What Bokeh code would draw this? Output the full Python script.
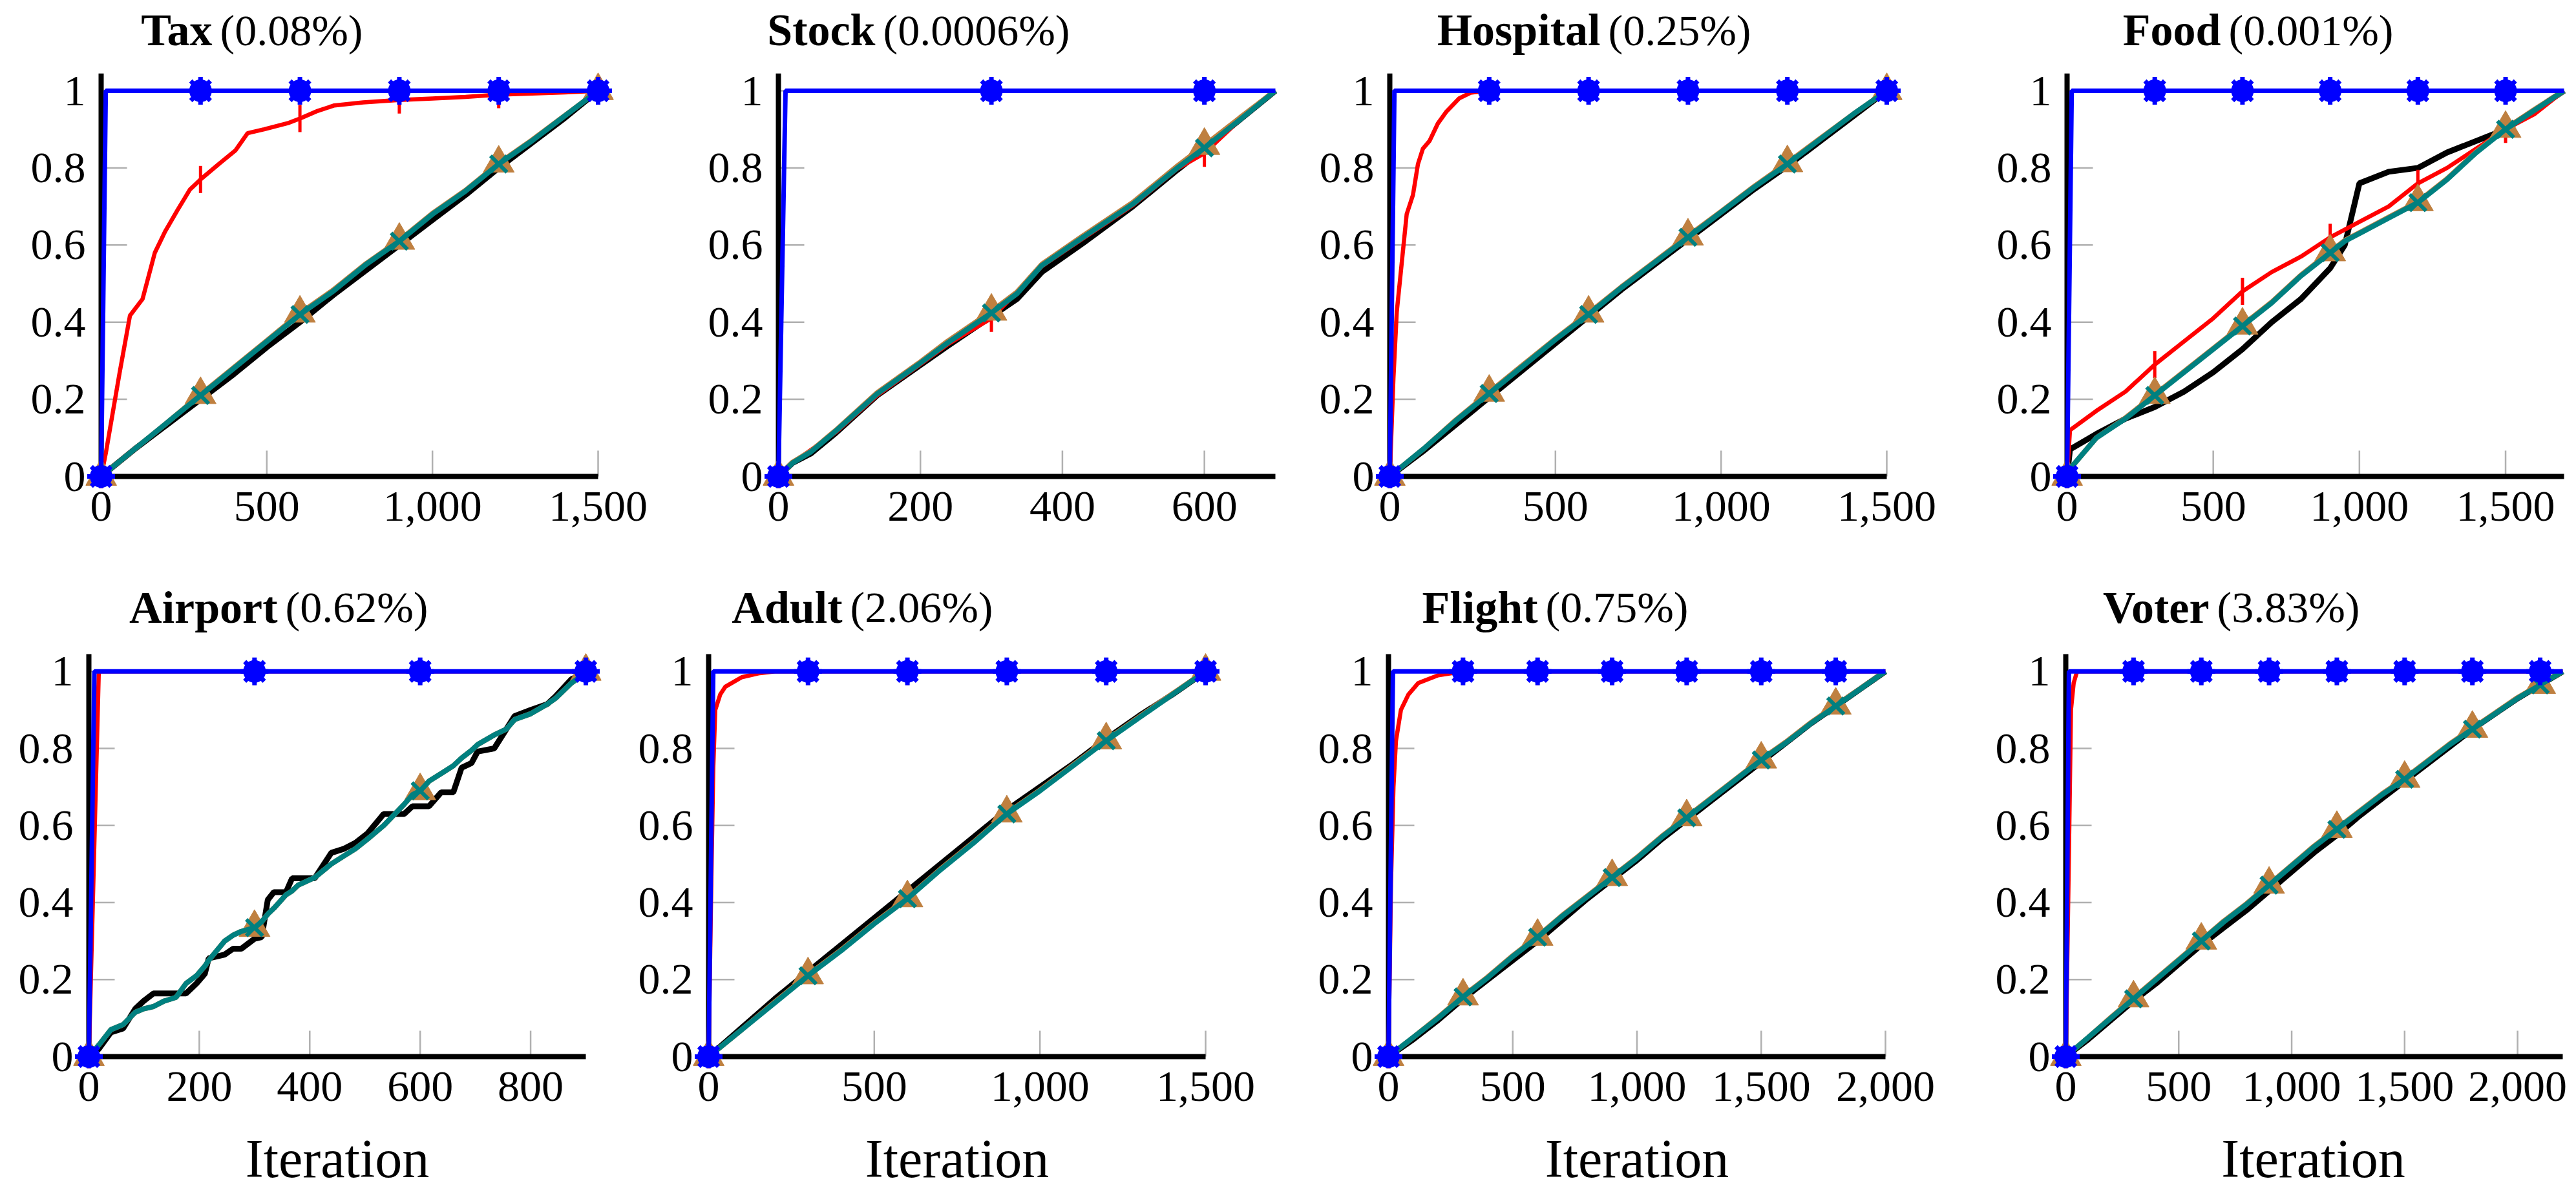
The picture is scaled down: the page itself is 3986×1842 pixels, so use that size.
import numpy as np
from bokeh.plotting import figure
from bokeh.layouts import row, column
from bokeh.models import Range1d, FixedTicker, NumeralTickFormatter, CustomJSTickFormatter
from bokeh.core.properties import value
from bokeh.embed import file_html
from bokeh.resources import INLINE

# ---------------- data ----------------
NAMES = ["Tax", "Stock", "Hospital", "Food", "Airport", "Adult", "Flight", "Voter"]
PCTS = ["(0.08%)", "(0.0006%)", "(0.25%)", "(0.001%)", "(0.62%)", "(2.06%)", "(0.75%)", "(3.83%)"]
XMAX = [1500, 700, 1500, 1700, 900, 1500, 2000, 2200]
XTICKS = [[0, 500, 1000, 1500], [0, 200, 400, 600], [0, 500, 1000, 1500], [0, 500, 1000, 1500],
          [0, 200, 400, 600, 800], [0, 500, 1000, 1500], [0, 500, 1000, 1500, 2000],
          [0, 500, 1000, 1500, 2000]]
YTICKS = [0, 0.2, 0.4, 0.6, 0.8, 1]
XLABEL = "Iteration"

# Tax
TAX_BLUE_X = [0, 14, 300, 600, 900, 1200, 1500]
TAX_BLUE = [0, 1, 1, 1, 1, 1, 1]
TAX_RED_X = [0, 14, 30, 56, 87, 125, 162, 193, 230, 268, 300, 355, 405, 442, 492, 567, 600, 654, 704, 791, 900, 1000, 1100, 1200, 1300, 1400, 1500]
TAX_RED = [0, 0.06, 0.14, 0.27, 0.417, 0.46, 0.58, 0.635, 0.69, 0.744, 0.77, 0.81, 0.845, 0.89, 0.90, 0.917, 0.928, 0.948, 0.962, 0.97, 0.976, 0.98, 0.984, 0.99, 0.993, 0.996, 1.0]
TAX_X = [0, 100, 200, 300, 400, 500, 600, 700, 800, 900, 1000, 1100, 1200, 1300, 1400, 1500]
TAX_BLACK = [0, 0.07, 0.135, 0.2, 0.265, 0.335, 0.4, 0.47, 0.535, 0.6, 0.665, 0.73, 0.8, 0.865, 0.93, 1.0]
TAX_BROWN = [0, 0.07, 0.14, 0.212, 0.282, 0.352, 0.423, 0.483, 0.552, 0.612, 0.682, 0.742, 0.812, 0.872, 0.936, 1.0]
TAX_TEAL = [0, 0.07, 0.14, 0.21, 0.28, 0.35, 0.42, 0.48, 0.55, 0.61, 0.68, 0.74, 0.81, 0.87, 0.935, 1.0]

# Stock
STOCK_BLUE_X = [0, 10, 300, 600, 700]
STOCK_BLUE = [0, 1, 1, 1, 1]
STOCK_RED_X = [0, 20, 81, 139, 197, 238, 300, 371, 429, 499, 562, 600, 650, 700]
STOCK_RED = [0, 0.035, 0.115, 0.21, 0.287, 0.342, 0.41, 0.545, 0.617, 0.703, 0.798, 0.838, 0.925, 1.0]
STOCK_X = [0, 20, 46, 81, 139, 197, 238, 300, 336, 371, 429, 499, 562, 600, 650, 700]
STOCK_BLACK = [0, 0.035, 0.06, 0.113, 0.21, 0.285, 0.338, 0.415, 0.46, 0.53, 0.605, 0.70, 0.795, 0.85, 0.925, 1.0]
STOCK_BROWN = [0, 0.037, 0.066, 0.12, 0.217, 0.293, 0.35, 0.428, 0.478, 0.55, 0.624, 0.71, 0.805, 0.858, 0.93, 1.0]
STOCK_TEAL = [0, 0.035, 0.064, 0.118, 0.214, 0.29, 0.346, 0.424, 0.474, 0.547, 0.62, 0.706, 0.80, 0.852, 0.925, 1.0]

# Hospital
HOSP_BLUE_X = [0, 14, 300, 600, 900, 1200, 1500]
HOSP_BLUE = [0, 1, 1, 1, 1, 1, 1]
HOSP_RED_X = [0, 11, 21, 36, 51, 70, 85, 100, 120, 145, 170, 209, 244, 293, 300, 600, 900, 1200, 1500]
HOSP_RED = [0, 0.255, 0.426, 0.553, 0.68, 0.73, 0.81, 0.85, 0.87, 0.915, 0.945, 0.98, 0.995, 1, 1, 1, 1, 1, 1]
HOSP_X = [0, 100, 200, 300, 400, 500, 600, 700, 800, 900, 1000, 1100, 1200, 1300, 1400, 1500]
HOSP_BLACK = [0, 0.065, 0.135, 0.205, 0.275, 0.345, 0.415, 0.485, 0.55, 0.615, 0.68, 0.745, 0.805, 0.87, 0.935, 1.0]
HOSP_BROWN = [0, 0.07, 0.147, 0.218, 0.288, 0.357, 0.423, 0.492, 0.557, 0.623, 0.687, 0.752, 0.813, 0.877, 0.94, 1.0]
HOSP_TEAL = [0, 0.07, 0.145, 0.215, 0.285, 0.355, 0.42, 0.49, 0.555, 0.62, 0.685, 0.75, 0.81, 0.875, 0.94, 1.0]

# Food
FOOD_BLUE_X = [0, 16, 300, 600, 900, 1200, 1500, 1700]
FOOD_BLUE = [0, 1, 1, 1, 1, 1, 1, 1]
FOOD_RED_X = [0, 10, 100, 200, 300, 400, 500, 600, 700, 800, 900, 1000, 1100, 1200, 1300, 1400, 1500, 1600, 1700]
FOOD_RED = [0, 0.12, 0.17, 0.22, 0.29, 0.35, 0.41, 0.48, 0.53, 0.57, 0.62, 0.66, 0.70, 0.76, 0.80, 0.85, 0.90, 0.94, 1.0]
FOOD_X = [0, 10, 100, 200, 300, 400, 500, 600, 700, 800, 900, 950, 1000, 1100, 1200, 1300, 1400, 1500, 1600, 1700]
FOOD_BLACK = [0, 0.07, 0.11, 0.15, 0.18, 0.22, 0.27, 0.33, 0.40, 0.46, 0.54, 0.60, 0.76, 0.79, 0.80, 0.84, 0.87, 0.90, 0.95, 1.0]
FOOD_BROWN = [0, 0.02, 0.10, 0.152, 0.212, 0.272, 0.332, 0.392, 0.452, 0.522, 0.582, 0.612, 0.632, 0.672, 0.712, 0.772, 0.842, 0.902, 0.952, 1.0]
FOOD_TEAL = [0, 0.02, 0.10, 0.15, 0.21, 0.27, 0.33, 0.39, 0.45, 0.52, 0.58, 0.61, 0.63, 0.67, 0.71, 0.77, 0.84, 0.90, 0.95, 1.0]

# Airport
AIR_BLUE_X = [0, 10, 300, 600, 900]
AIR_BLUE = [0, 1, 1, 1, 1]
AIR_RED_X = [0, 18, 300, 600, 900]
AIR_RED = [0, 1, 1, 1, 1]
AIR_X = [0, 18, 40, 62, 84, 99, 117, 136, 158, 176, 195, 210, 217, 246, 261, 276, 300, 313, 324, 335, 357, 368, 379, 409, 439, 461, 483, 505, 534, 571, 586, 600, 616, 638, 660, 675, 693, 704, 734, 756, 771, 800, 830, 845, 874, 889, 900]
AIR_BLACK = [0, 0.02, 0.063, 0.073, 0.124, 0.144, 0.164, 0.164, 0.164, 0.164, 0.19, 0.215, 0.255, 0.265, 0.28, 0.28, 0.306, 0.31, 0.407, 0.427, 0.427, 0.463, 0.463, 0.463, 0.529, 0.539, 0.555, 0.58, 0.63, 0.63, 0.65, 0.65, 0.65, 0.686, 0.686, 0.75, 0.762, 0.792, 0.80, 0.85, 0.884, 0.90, 0.915, 0.935, 0.98, 0.99, 1.0]
AIR_BROWN = [0, 0.03, 0.07, 0.083, 0.115, 0.124, 0.13, 0.144, 0.154, 0.19, 0.21, 0.235, 0.25, 0.30, 0.315, 0.325, 0.335, 0.35, 0.37, 0.385, 0.42, 0.43, 0.445, 0.465, 0.50, 0.52, 0.54, 0.565, 0.60, 0.655, 0.68, 0.69, 0.715, 0.735, 0.755, 0.775, 0.795, 0.81, 0.835, 0.85, 0.875, 0.89, 0.915, 0.93, 0.97, 0.985, 1.0]
AIR_TEAL = [0, 0.03, 0.07, 0.083, 0.115, 0.124, 0.13, 0.144, 0.154, 0.19, 0.21, 0.235, 0.25, 0.30, 0.315, 0.325, 0.335, 0.35, 0.37, 0.385, 0.42, 0.43, 0.445, 0.465, 0.50, 0.52, 0.54, 0.565, 0.60, 0.655, 0.68, 0.69, 0.715, 0.735, 0.755, 0.775, 0.795, 0.81, 0.835, 0.85, 0.875, 0.89, 0.915, 0.93, 0.97, 0.985, 1.0]

# Adult
ADULT_BLUE_X = [0, 14, 300, 600, 900, 1200, 1500]
ADULT_BLUE = [0, 1, 1, 1, 1, 1, 1]
ADULT_RED_X = [0, 8, 14, 20, 35, 50, 100, 150, 200, 300, 600, 900, 1200, 1500]
ADULT_RED = [0, 0.45, 0.75, 0.9, 0.94, 0.96, 0.985, 0.995, 1, 1, 1, 1, 1, 1]
ADULT_X = [0, 100, 200, 300, 400, 500, 600, 700, 800, 900, 1000, 1100, 1200, 1300, 1400, 1500]
ADULT_BLACK = [0, 0.075, 0.15, 0.22, 0.29, 0.36, 0.43, 0.5, 0.57, 0.64, 0.70, 0.76, 0.825, 0.885, 0.94, 1.0]
ADULT_BROWN = [0, 0.07, 0.142, 0.212, 0.277, 0.347, 0.412, 0.487, 0.557, 0.632, 0.692, 0.757, 0.822, 0.882, 0.942, 1.0]
ADULT_TEAL = [0, 0.07, 0.14, 0.21, 0.275, 0.345, 0.41, 0.485, 0.555, 0.63, 0.69, 0.755, 0.82, 0.88, 0.94, 1.0]

# Flight
FLIGHT_BLUE_X = [0, 18, 300, 600, 900, 1200, 1500, 1800, 2000]
FLIGHT_BLUE = [0, 1, 1, 1, 1, 1, 1, 1, 1]
FLIGHT_RED_X = [0, 10, 20, 30, 50, 80, 120, 200, 300, 600, 900, 1200, 1500, 1800, 2000]
FLIGHT_RED = [0, 0.45, 0.7, 0.82, 0.9, 0.94, 0.97, 0.99, 1, 1, 1, 1, 1, 1, 1]
FLIGHT_X = [0, 100, 200, 300, 400, 500, 600, 700, 800, 900, 1000, 1100, 1200, 1300, 1400, 1500, 1600, 1700, 1800, 1900, 2000]
FLIGHT_BLACK = [0, 0.045, 0.095, 0.15, 0.2, 0.25, 0.3, 0.355, 0.41, 0.46, 0.51, 0.565, 0.615, 0.665, 0.715, 0.765, 0.815, 0.865, 0.91, 0.955, 1.0]
FLIGHT_BROWN = [0, 0.05, 0.102, 0.157, 0.207, 0.262, 0.312, 0.367, 0.417, 0.467, 0.517, 0.572, 0.622, 0.672, 0.722, 0.772, 0.817, 0.867, 0.912, 0.956, 1.0]
FLIGHT_TEAL = [0, 0.05, 0.10, 0.155, 0.205, 0.26, 0.31, 0.365, 0.415, 0.465, 0.515, 0.57, 0.62, 0.67, 0.72, 0.77, 0.815, 0.865, 0.91, 0.955, 1.0]

# Voter
VOTER_BLUE_X = [0, 14, 300, 600, 900, 1200, 1500, 1800, 2100, 2200]
VOTER_BLUE = [0, 1, 1, 1, 1, 1, 1, 1, 1, 1]
VOTER_RED_X = [0, 12, 23, 35, 50, 300, 600, 900, 1200, 1500, 1800, 2100, 2200]
VOTER_RED = [0, 0.45, 0.9, 0.97, 1, 1, 1, 1, 1, 1, 1, 1, 1]
VOTER_X = [0, 100, 200, 300, 400, 500, 600, 700, 800, 900, 1000, 1100, 1200, 1300, 1400, 1500, 1600, 1700, 1800, 1900, 2000, 2100, 2200]
VOTER_BLACK = [0, 0.045, 0.095, 0.145, 0.19, 0.24, 0.29, 0.335, 0.38, 0.43, 0.48, 0.53, 0.575, 0.625, 0.67, 0.715, 0.76, 0.805, 0.85, 0.89, 0.93, 0.965, 1.0]
VOTER_BROWN = [0, 0.05, 0.102, 0.152, 0.202, 0.252, 0.302, 0.352, 0.397, 0.447, 0.497, 0.547, 0.592, 0.637, 0.682, 0.722, 0.767, 0.812, 0.852, 0.892, 0.932, 0.966, 1.0]
VOTER_TEAL = [0, 0.05, 0.10, 0.15, 0.20, 0.25, 0.30, 0.35, 0.395, 0.445, 0.495, 0.545, 0.59, 0.635, 0.68, 0.72, 0.765, 0.81, 0.85, 0.89, 0.93, 0.965, 1.0]

SERIES = [
    (TAX_BLUE_X, TAX_BLUE, TAX_RED_X, TAX_RED, TAX_X, TAX_BLACK, TAX_BROWN, TAX_TEAL),
    (STOCK_BLUE_X, STOCK_BLUE, STOCK_RED_X, STOCK_RED, STOCK_X, STOCK_BLACK, STOCK_BROWN, STOCK_TEAL),
    (HOSP_BLUE_X, HOSP_BLUE, HOSP_RED_X, HOSP_RED, HOSP_X, HOSP_BLACK, HOSP_BROWN, HOSP_TEAL),
    (FOOD_BLUE_X, FOOD_BLUE, FOOD_RED_X, FOOD_RED, FOOD_X, FOOD_BLACK, FOOD_BROWN, FOOD_TEAL),
    (AIR_BLUE_X, AIR_BLUE, AIR_RED_X, AIR_RED, AIR_X, AIR_BLACK, AIR_BROWN, AIR_TEAL),
    (ADULT_BLUE_X, ADULT_BLUE, ADULT_RED_X, ADULT_RED, ADULT_X, ADULT_BLACK, ADULT_BROWN, ADULT_TEAL),
    (FLIGHT_BLUE_X, FLIGHT_BLUE, FLIGHT_RED_X, FLIGHT_RED, FLIGHT_X, FLIGHT_BLACK, FLIGHT_BROWN, FLIGHT_TEAL),
    (VOTER_BLUE_X, VOTER_BLUE, VOTER_RED_X, VOTER_RED, VOTER_X, VOTER_BLACK, VOTER_BROWN, VOTER_TEAL),
]
MARK_EVERY = 300

# ---------------- layout / style ----------------
TOTAL_W, TOTAL_H = 3986, 1842
AXIS_X = [[156, 1204, 2150, 3198], [137, 1096, 2148, 3196]]   # y-axis pixel positions
ZERO_Y = [737, 1636]       # pixel row of y = 0
ROW_TOP = [0, 880]
ROW_H = [880, 962]
DATA_W = 769               # pixels from x=0 to x=max
UNIT_H = 597               # pixels per y unit
YTOP = 1.045               # top of the drawn y axis line
PADL = 24
PADB = 18
BL = 119
TICK_LEN = 40
AXIS_LW = 8
TITLE_SPLIT = [178, 156, 332, 244, 298, 213, 237, 228]
TITLE_Y_PX = [46, 940]

FONT = "Liberation Serif"
BLUE, RED, BLACK, BROWN, TEAL = "#0000ff", "#ff0000", "#000000", "#bf8040", "#008080"
TICKCOL = "#b0b0b0"


def marks(xs, ys):
    mx = [x for x in xs if x % MARK_EVERY == 0]
    my = [y for x, y in zip(xs, ys) if x % MARK_EVERY == 0]
    return mx, my


def make_panel(i, r, width, border_left, padr):
    bx, by, rx, ry, dx, blk, brn, tl = SERIES[i]
    n = XMAX[i]
    sx = DATA_W / n
    frame_w = DATA_W + PADL + padr
    frame_h = ZERO_Y[r] - ROW_TOP[r] + PADB
    bottom_border = ROW_H[r] - frame_h
    y_end = (ZERO_Y[r] - ROW_TOP[r]) / UNIT_H
    p = figure(width=width, height=ROW_H[r], output_backend="svg", toolbar_location=None,
               title=None,
               x_range=Range1d(-PADL / sx, n + padr / sx),
               y_range=Range1d(-PADB / UNIT_H, y_end),
               min_border_left=border_left, min_border_right=width - border_left - frame_w,
               min_border_top=0, min_border_bottom=bottom_border)
    p.outline_line_color = None
    p.grid.visible = False
    p.background_fill_color = "white"
    p.border_fill_color = "white"

    # bokeh axes provide the tick labels; lines/ticks are drawn in data space below
    for ax in (p.xaxis[0], p.yaxis[0]):
        ax.axis_line_color = None
        ax.major_tick_line_color = None
        ax.minor_tick_line_color = None
        ax.major_tick_in = 0
        ax.major_tick_out = 0
        ax.major_label_text_font = FONT
        ax.major_label_text_font_size = "68px"
        ax.major_label_text_color = "black"
    p.xaxis.ticker = FixedTicker(ticks=XTICKS[i])
    p.xaxis.formatter = NumeralTickFormatter(format="0,0")
    p.xaxis.major_label_standoff = 6
    p.yaxis.ticker = FixedTicker(ticks=YTICKS)
    p.yaxis.formatter = CustomJSTickFormatter(
        code="return (tick == 0 || tick == 1) ? tick.toFixed(0) : tick.toFixed(1);")
    p.yaxis.major_label_standoff = 0
    if r == 1:
        p.xaxis.axis_label = XLABEL
        p.xaxis.axis_label_text_font = FONT
        p.xaxis.axis_label_text_font_size = "84px"
        p.xaxis.axis_label_text_font_style = "normal"
        p.xaxis.axis_label_text_color = "black"
        p.xaxis.axis_label_standoff = 40

    # gray inward ticks
    xt = XTICKS[i]
    p.segment(x0=xt, y0=[0] * len(xt), x1=xt, y1=[TICK_LEN / UNIT_H] * len(xt),
              line_color=TICKCOL, line_width=2.5)
    p.segment(x0=[0] * len(YTICKS), y0=YTICKS, x1=[TICK_LEN / sx] * len(YTICKS), y1=YTICKS,
              line_color=TICKCOL, line_width=2.5)
    # axis lines
    half = AXIS_LW / 2
    p.segment(x0=[-half / sx], y0=[0], x1=[n], y1=[0], line_color="black", line_width=AXIS_LW)
    p.segment(x0=[0], y0=[-half / UNIT_H], x1=[0], y1=[YTOP], line_color="black", line_width=AXIS_LW)

    # series: black, red, brown, teal, blue
    p.line(dx, blk, line_color=BLACK, line_width=9)
    p.line(rx, ry, line_color=RED, line_width=6.5)
    mx, my = marks(rx, ry)
    p.scatter(mx, my, marker="dash", angle=np.pi / 2, size=42, line_color=RED, line_width=5)
    p.line(dx, brn, line_color=BROWN, line_width=8)
    mx, my = marks(dx, brn)
    p.scatter(mx, my, marker="triangle", size=48, fill_color=BROWN, line_color=BROWN, line_width=1)
    p.line(dx, tl, line_color=TEAL, line_width=8)
    mx, my = marks(dx, tl)
    p.scatter(mx, my, marker="x", size=36, line_color=TEAL, line_width=6)
    p.line(bx, by, line_color=BLUE, line_width=7)
    mx, my = marks(bx, by)
    p.scatter(mx, my, marker="circle", size=35, fill_color=BLUE, line_color=None)
    p.scatter(mx, my, marker="asterisk", size=43, line_color=BLUE, line_width=7)

    # title: bold name + regular percentage
    ty = (ZERO_Y[r] - TITLE_Y_PX[r]) / UNIT_H
    p.text(x=[0], y=[ty], text=[NAMES[i]], x_offset=TITLE_SPLIT[i] - 6,
           text_font=value(FONT), text_font_size="70px", text_font_style="bold",
           text_align="right", text_baseline="middle", text_color="black")
    p.text(x=[0], y=[ty], text=[PCTS[i]], x_offset=TITLE_SPLIT[i] + 6,
           text_font=value(FONT), text_font_size="68px", text_font_style="normal",
           text_align="left", text_baseline="middle", text_color="black")
    return p


rows = []
for r in range(2):
    frame_left = [ax - PADL for ax in AXIS_X[r]]
    starts = [0] + [fl - BL for fl in frame_left[1:]]
    figs = []
    for c in range(4):
        start = starts[c]
        end = starts[c + 1] if c < 3 else TOTAL_W
        padr = min(PADL, end - (AXIS_X[r][c] + DATA_W))
        figs.append(make_panel(r * 4 + c, r, end - start, frame_left[c] - start, padr))
    rows.append(row(*figs, spacing=0))

layout = column(*rows, spacing=0)
open("out.html", "w").write(file_html(layout, INLINE))
